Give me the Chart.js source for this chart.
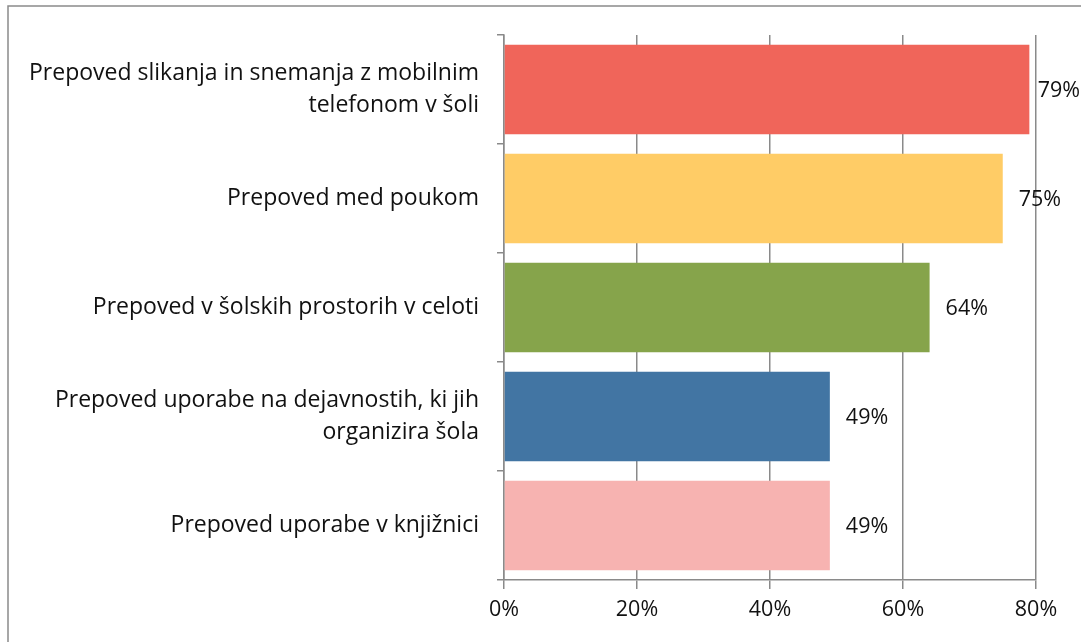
<!DOCTYPE html>
<html>
<head>
<meta charset="utf-8">
<script src="https://cdn.jsdelivr.net/npm/chart.js@4"></script>
<style>
  body { margin: 0; background: #fff; }
  #wrap { width: 1081px; height: 642px; position: relative; }
</style>
</head>
<body>
<div id="wrap"><canvas id="chart" width="1081" height="642"></canvas></div>
<script>
// categories and values
const categories = [
    ['Prepoved slikanja in snemanja z mobilnim', 'telefonom v šoli'],
    'Prepoved med poukom',
    'Prepoved v šolskih prostorih v celoti',
    ['Prepoved uporabe na dejavnostih, ki jih', 'organizira šola'],
    'Prepoved uporabe v knjižnici'
];
const values = [79, 75, 64, 49, 49];
const barColors = ['#F0655A', '#FFCC66', '#86A44B', '#4275A3', '#F7B3B1'];
const xTicks = [0, 20, 40, 60, 80];

const fontFamily = '"Open Sans", sans-serif';

// outer frame of the chart
const framePlugin = {
    id: 'frame',
    beforeDraw(chart) {
        const ctx = chart.ctx;
        ctx.save();
        ctx.fillStyle = '#fff';
        ctx.fillRect(0, 0, chart.width, chart.height);
        ctx.strokeStyle = '#8a8a8a';
        ctx.lineWidth = 1.5;
        ctx.strokeRect(8, 6, chart.width + 20, chart.height + 20);
        ctx.restore();
    }
};

// value labels at bar ends, kept inside the canvas
const labelPlugin = {
    id: 'valueLabels',
    afterDatasetsDraw(chart) {
        const ctx = chart.ctx;
        const meta = chart.getDatasetMeta(0);
        ctx.save();
        ctx.font = '21.5px ' + fontFamily;
        ctx.fillStyle = '#111';
        ctx.textBaseline = 'middle';
        meta.data.forEach((bar, i) => {
            const text = values[i] + '%';
            const w = ctx.measureText(text).width;
            const x = Math.min(bar.x + 16, chart.width - w - 1);
            ctx.fillText(text, x, bar.y + 1);
        });
        ctx.restore();
    }
};

new Chart(document.getElementById('chart'), {
    type: 'bar',
    data: {
        labels: categories,
        datasets: [{
            data: values,
            backgroundColor: barColors,
            borderWidth: 0,
            categoryPercentage: 1,
            barPercentage: 0.82
        }]
    },
    options: {
        indexAxis: 'y',
        responsive: false,
        animation: false,
        layout: { padding: { top: 35, right: 45, left: 0, bottom: 0 } },
        plugins: {
            legend: { display: false },
            tooltip: { enabled: false }
        },
        scales: {
            x: {
                min: 0,
                max: 80,
                afterBuildTicks: scale => { scale.ticks = xTicks.map(v => ({ value: v })); },
                afterFit: scale => { scale.height = 62; },
                ticks: {
                    callback: v => v + '%',
                    color: '#111',
                    font: { size: 21.5, family: fontFamily },
                    padding: 8,
                    maxRotation: 0
                },
                grid: { color: '#8a8a8a', lineWidth: 1.5, tickLength: 9 },
                border: { color: '#8a8a8a', width: 1.5 }
            },
            y: {
                afterFit: scale => { scale.width = 504; },
                ticks: {
                    color: '#111',
                    font: { size: 23, family: fontFamily, lineHeight: 1.4 },
                    padding: 18
                },
                grid: { offset: true, drawOnChartArea: false, color: '#8a8a8a', lineWidth: 1.5, tickLength: 7 },
                border: { color: '#8a8a8a', width: 1.5 }
            }
        }
    },
    plugins: [framePlugin, labelPlugin]
});
</script>
</body>
</html>
